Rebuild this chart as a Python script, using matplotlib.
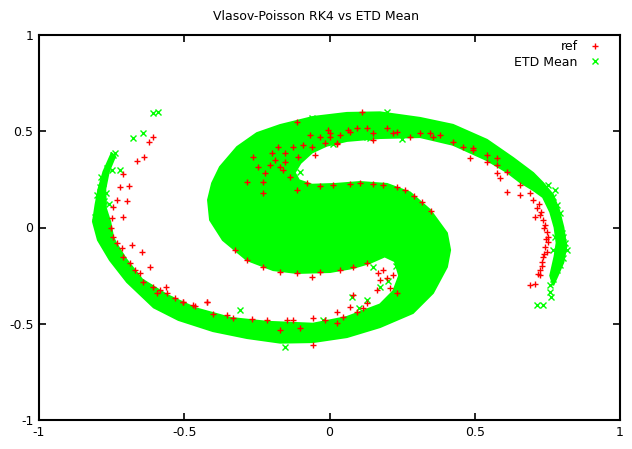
import matplotlib
matplotlib.use("Agg")
import matplotlib.pyplot as plt
from matplotlib.lines import Line2D

# ETD Mean: outline of the dense part of the cloud
etd_cloud = [
    (-0.411, 0.039), (-0.418, 0.143), (-0.404, 0.230), (-0.377, 0.314), (-0.318, 0.418),
    (-0.250, 0.490), (-0.170, 0.532), (-0.057, 0.574), (0.060, 0.595), (0.174, 0.598),
    (0.312, 0.569), (0.425, 0.533), (0.542, 0.455), (0.632, 0.361), (0.701, 0.283),
    (0.735, 0.231), (0.769, 0.170), (0.790, 0.090), (0.805, 0.000), (0.815, -0.100),
    (0.805, -0.180), (0.785, -0.250), (0.770, -0.300),
    (0.760, -0.250), (0.775, -0.150), (0.782, -0.080), (0.775, 0.000), (0.760, 0.080),
    (0.735, 0.158), (0.701, 0.195), (0.656, 0.236), (0.611, 0.288), (0.542, 0.350),
    (0.425, 0.430), (0.312, 0.470), (0.174, 0.465), (0.060, 0.450), (-0.010, 0.425),
    (-0.060, 0.390), (-0.100, 0.335), (-0.120, 0.285), (-0.105, 0.245), (-0.060, 0.222),
    (0.020, 0.226), (0.105, 0.236), (0.198, 0.226), (0.277, 0.182), (0.346, 0.091),
    (0.404, -0.029), (0.415, -0.117),
    (0.404, -0.205), (0.356, -0.340), (0.287, -0.444), (0.174, -0.517), (0.060, -0.569),
    (-0.057, -0.595), (-0.170, -0.598), (-0.284, -0.574), (-0.401, -0.538), (-0.520, -0.480),
    (-0.605, -0.415), (-0.697, -0.283), (-0.756, -0.169), (-0.797, -0.065), (-0.814, 0.030),
    (-0.805, 0.120), (-0.795, 0.200), (-0.778, 0.290), (-0.750, 0.385),
    (-0.738, 0.370), (-0.760, 0.290), (-0.772, 0.200), (-0.770, 0.100), (-0.755, 0.030),
    (-0.745, -0.050), (-0.735, -0.081), (-0.700, -0.165), (-0.645, -0.270), (-0.560, -0.350),
    (-0.460, -0.420), (-0.340, -0.470), (-0.215, -0.490), (-0.057, -0.500), (0.060, -0.465),
    (0.174, -0.400), (0.220, -0.330), (0.240, -0.250), (0.225, -0.175),
    (0.190, -0.150), (0.139, -0.184), (0.081, -0.210), (0.002, -0.231), (-0.112, -0.236),
    (-0.194, -0.221), (-0.284, -0.169), (-0.367, -0.065),
]

# ETD Mean: loose x markers (tails and gaps)
etd_pts = [
    (0.769, 0.158), (0.783, 0.117), (0.793, 0.075), (0.787, 0.039), (0.800, -0.029),
    (0.811, -0.081), (0.818, -0.117), (0.804, -0.158), (0.793, -0.195), (0.783, -0.221),
    (0.769, -0.247), (0.759, -0.299), (0.759, -0.335), (0.762, -0.361), (0.735, -0.403),
    (0.714, -0.403), (0.776, 0.195), (0.752, 0.221), (0.742, 0.179), (0.776, -0.049),
    (0.787, -0.143), (0.769, -0.117), (0.790, 0.000), (0.805, -0.050), (0.800, -0.100),
    (0.780, -0.180), (0.770, -0.270),
    (0.129, 0.470), (0.139, 0.465), (0.012, 0.434), (-0.102, 0.288), (-0.129, 0.257),
    (-0.170, 0.288), (-0.143, 0.236), (0.198, 0.600), (-0.060, 0.569), (-0.200, 0.250),
    (-0.180, 0.370), (0.250, 0.460),
    (0.150, -0.205), (0.174, -0.309), (0.129, -0.377), (0.077, -0.361), (-0.022, -0.481),
    (-0.153, -0.621), (-0.308, -0.429), (0.200, -0.280), (0.230, -0.200), (0.100, -0.420),
    (-0.608, 0.595), (-0.590, 0.600), (-0.676, 0.465), (-0.642, 0.491), (-0.738, 0.387),
    (-0.745, 0.377), (-0.766, 0.309), (-0.749, 0.299), (-0.721, 0.299), (-0.780, 0.231),
    (-0.790, 0.210), (-0.800, 0.169), (-0.797, 0.091), (-0.807, 0.055), (-0.790, 0.003),
    (-0.785, 0.260), (-0.770, 0.180), (-0.760, 0.120), (-0.775, 0.140), (-0.795, 0.120),
]

# ref: + markers
ref_pts = [
    # right arm
    (0.312, 0.491), (0.346, 0.491), (0.380, 0.481), (0.425, 0.444), (0.460, 0.418),
    (0.494, 0.403), (0.542, 0.377), (0.576, 0.361), (0.484, 0.361), (0.542, 0.340),
    (0.576, 0.325), (0.587, 0.257), (0.611, 0.184), (0.611, 0.288), (0.656, 0.221),
    (0.656, 0.169), (0.690, 0.179), (0.701, 0.143), (0.715, 0.101), (0.725, 0.065),
    (0.735, 0.039), (0.742, 0.013), (0.749, -0.023), (0.752, -0.049), (0.752, -0.075),
    (0.742, -0.101), (0.749, -0.127), (0.735, -0.153), (0.731, -0.179), (0.725, -0.221),
    (0.725, -0.247), (0.707, -0.294), (0.690, -0.299), (0.707, 0.055), (0.356, 0.470),
    (0.277, 0.470), (0.494, 0.413), (0.576, 0.283), (0.720, 0.120), (0.728, 0.080),
    (0.738, 0.000), (0.745, -0.060), (0.740, -0.140), (0.730, -0.200), (0.718, -0.240),
    # top of upper arm and upper gap
    (-0.112, 0.548), (0.112, 0.600), (0.002, 0.491), (0.026, 0.439), (0.071, 0.496),
    (0.150, 0.491), (0.232, 0.496), (-0.067, 0.481), (-0.033, 0.470), (0.002, 0.470),
    (-0.005, 0.506), (0.036, 0.481), (0.064, 0.506), (0.095, 0.517), (0.129, 0.517),
    (0.150, 0.455), (0.198, 0.517), (0.218, 0.491), (-0.015, 0.439), (0.026, 0.434),
    (-0.060, 0.418), (-0.091, 0.429), (-0.125, 0.418), (-0.177, 0.418), (-0.198, 0.387),
    (-0.153, 0.387), (-0.108, 0.366), (-0.050, 0.377), (-0.188, 0.351), (-0.153, 0.340),
    (-0.170, 0.314), (-0.205, 0.325), (-0.222, 0.283), (-0.160, 0.299), (-0.136, 0.262),
    (-0.077, 0.231), (-0.112, 0.195), (-0.263, 0.366), (-0.246, 0.314), (-0.229, 0.236),
    (-0.284, 0.236), (-0.229, 0.179),
    # blob top edge
    (0.012, 0.221), (0.071, 0.226), (0.105, 0.231), (0.150, 0.226), (0.184, 0.221),
    (0.232, 0.210), (-0.033, 0.216), (0.260, 0.195), (0.290, 0.165), (0.320, 0.130),
    (0.350, 0.085),
    # lower gap and lower arm
    (-0.060, -0.257), (0.081, -0.351), (0.071, -0.413), (0.026, -0.439), (0.095, -0.439),
    (0.115, -0.418), (0.129, -0.392), (0.163, -0.325), (0.167, -0.236), (0.184, -0.221),
    (0.198, -0.262), (0.218, -0.247), (0.232, -0.340), (0.208, -0.314), (0.174, -0.273),
    (0.047, -0.465), (-0.015, -0.481), (-0.057, -0.470), (-0.125, -0.481), (-0.146, -0.481),
    (-0.215, -0.481), (-0.267, -0.475), (-0.332, -0.470), (-0.353, -0.455), (-0.401, -0.449),
    (-0.422, -0.387), (-0.470, -0.403), (-0.504, -0.387), (-0.057, -0.610), (0.026, -0.496),
    (-0.102, -0.522), (-0.170, -0.532),
    # blob bottom edge
    (-0.284, -0.169), (-0.229, -0.205), (-0.170, -0.231), (-0.112, -0.236), (-0.033, -0.231),
    (0.036, -0.221), (0.081, -0.205), (0.129, -0.184), (-0.325, -0.117),
    # lower-left tail
    (-0.608, 0.470), (-0.621, 0.444), (-0.638, 0.366), (-0.662, 0.345), (-0.710, 0.278),
    (-0.721, 0.210), (-0.690, 0.216), (-0.731, 0.143), (-0.697, 0.138), (-0.745, 0.107),
    (-0.710, 0.055), (-0.749, 0.049), (-0.752, -0.003), (-0.745, -0.049), (-0.731, -0.081),
    (-0.714, -0.106), (-0.710, -0.153), (-0.687, -0.184), (-0.646, -0.127), (-0.680, -0.091),
    (-0.618, -0.205), (-0.670, -0.221), (-0.652, -0.236), (-0.642, -0.283), (-0.608, -0.309),
    (-0.583, -0.325), (-0.559, -0.340), (-0.562, -0.309), (-0.532, -0.366), (-0.504, -0.387),
    (-0.463, -0.408), (-0.422, -0.387), (-0.594, -0.340),
]

ticks = [-1, -0.5, 0, 0.5, 1]
tick_labels = ["-1", "-0.5", "0", "0.5", "1"]

RED = "#ff0000"
GREEN = "#00ff00"

fig = plt.figure(figsize=(6.32, 4.49), dpi=100)
ax = fig.add_axes([39 / 632, 29 / 449, 581 / 632, 385 / 449])

cx, cy = zip(*etd_cloud)
ax.fill(cx, cy, color=GREEN, ec=GREEN, lw=1.5, zorder=2)

ex, ey = zip(*etd_pts)
ax.plot(ex, ey, ls="none", marker="x", ms=4.5, mew=1, color=GREEN, zorder=3)

rx, ry = zip(*ref_pts)
ax.plot(rx, ry, ls="none", marker="+", ms=5, mew=1, color=RED, zorder=4)

ax.set_xlim(-1, 1)
ax.set_ylim(-1, 1)
ax.set_xticks(ticks)
ax.set_xticklabels(tick_labels)
ax.set_yticks(ticks)
ax.set_yticklabels(tick_labels)
ax.tick_params(direction="in", length=5, width=1.2, top=True, right=True,
               labelsize=9, pad=4)
for s in ax.spines.values():
    s.set_linewidth(1.5)

fig.text(0.5, 1 - 16 / 449, "Vlasov-Poisson RK4 vs ETD Mean", ha="center",
         va="center", fontsize=9)

handles = [
    Line2D([], [], ls="none", marker="+", ms=5, mew=1, color=RED, label="ref"),
    Line2D([], [], ls="none", marker="x", ms=4.5, mew=1, color=GREEN, label="ETD Mean"),
]
ax.legend(handles=handles, loc="upper right", bbox_to_anchor=(0.9785, 1.0),
          markerfirst=False, frameon=False, fontsize=9, handlelength=1.2,
          handletextpad=0.8, labelspacing=0.2, borderaxespad=0)

fig.savefig("out.png", dpi=100)
